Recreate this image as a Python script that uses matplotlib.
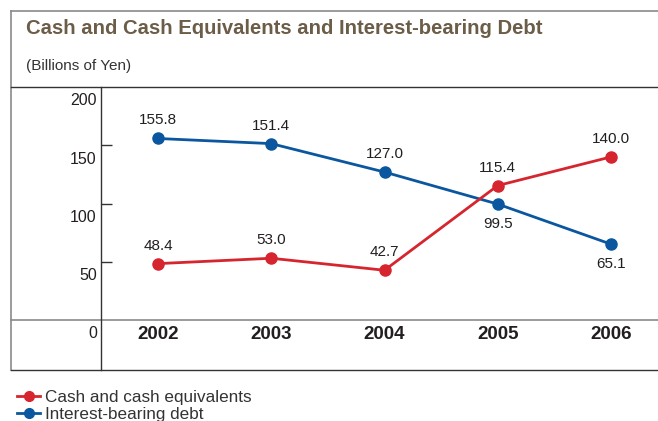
import matplotlib
matplotlib.use("Agg")
import matplotlib.pyplot as plt
from matplotlib.lines import Line2D

# Data (billions of yen)
years = ["2002", "2003", "2004", "2005", "2006"]
cash = [48.4, 53.0, 42.7, 115.4, 140.0]
debt = [155.8, 151.4, 127.0, 99.5, 65.1]
y_ticks = [0, 50, 100, 150, 200]

# label placement: +1 above the point, -1 below
cash_label_side = [1, 1, 1, 1, 1]
debt_label_side = [1, 1, 1, -1, -1]

RED = "#d6252e"
BLUE = "#0b579f"
TEXT = "#231f20"
TITLE = "#6b5d47"

W, H = 658, 421
DPI = 100
fig = plt.figure(figsize=(W / DPI, H / DPI), dpi=DPI)
fig.patch.set_facecolor("white")

REG = ["Liberation Sans", "DejaVu Sans"]


def fx(px):
    return px / W


def fy(py):
    return 1 - py / H


# frame lines of the panel
def hline(y, x0, x1, color, lw):
    fig.add_artist(Line2D([fx(x0), fx(x1)], [fy(y), fy(y)], color=color, lw=lw,
                          transform=fig.transFigure))


def vline(x, y0, y1, color, lw):
    fig.add_artist(Line2D([fx(x), fx(x)], [fy(y0), fy(y1)], color=color, lw=lw,
                          transform=fig.transFigure))


hline(11, 11, W, "#8a8a8a", 1.2)
vline(11, 11, 370, "#8a8a8a", 1.2)
hline(87, 11, W, "#333333", 1.0)
hline(320, 11, W, "#8a8a8a", 1.2)
hline(370, 11, W, "#333333", 1.0)
vline(101, 87, 370, "#333333", 1.0)

# title and unit
fig.text(fx(26), fy(29), "Cash and Cash Equivalents and Interest-bearing Debt",
         family=REG, fontweight="bold", fontsize=14.6, color=TITLE,
         ha="left", va="center")
fig.text(fx(26), fy(66), "(Billions of Yen)", family=REG, fontsize=11,
         color="#333333", ha="left", va="center")

# plotting area: value 0 at y=320, 200 at y=87
ax = fig.add_axes([fx(101), fy(320), fx(W) - fx(101), fy(87) - fy(320)])
ax.set_facecolor("none")
x = list(range(len(years)))
step = 113.25
ax.set_xlim(-(158 - 101) / step, (len(years) - 1) + (W - 611) / step)
ax.set_ylim(0, 200)
for s in ax.spines.values():
    s.set_visible(False)
ax.set_xticks([])
ax.set_yticks([50, 100, 150])
ax.tick_params(axis="y", direction="in", length=8, width=1.0, color="#333333",
               labelleft=False)

ax.plot(x, debt, color=BLUE, lw=2.0, marker="o", ms=8, zorder=3,
        label="Interest-bearing debt")
ax.plot(x, cash, color=RED, lw=2.0, marker="o", ms=8, zorder=4,
        label="Cash and cash equivalents")

# value labels
for xs, vals, sides in ((x, cash, cash_label_side), (x, debt, debt_label_side)):
    for xi, v, s in zip(xs, vals, sides):
        ax.annotate(f"{v:.1f}", (xi, v), xytext=(0, 13 if s > 0 else -14),
                    textcoords="offset points", ha="center",
                    va="center", family=REG, fontsize=11, color=TEXT)

# y-axis labels sit just below their level, left of the divider
for t in y_ticks:
    ax.annotate(str(t), (0, t), xycoords=("axes fraction", "data"),
                xytext=(-3, -10), textcoords="offset points",
                ha="right", va="center", family=REG, fontsize=11.5, color=TEXT)

# year labels in the row beneath the zero line
for xi, yr in zip(x, years):
    ax.annotate(yr, (xi, 0), xytext=(0, -10.5), textcoords="offset points",
                ha="center", va="center", family=REG, fontweight="bold",
                fontsize=13.5, color=TEXT, annotation_clip=False)

# legend
handles = [Line2D([], [], color=RED, lw=2.0, marker="o", ms=7),
           Line2D([], [], color=BLUE, lw=2.0, marker="o", ms=7)]
fig.legend(handles, ["Cash and cash equivalents", "Interest-bearing debt"],
           loc="upper left", bbox_to_anchor=(fx(17), fy(390)),
           frameon=False, handlelength=1.35, handletextpad=0.3,
           labelspacing=0.1, borderpad=0, borderaxespad=0,
           prop={"family": REG, "size": 12.3}, labelcolor="#333333")

fig.savefig("out.png", dpi=DPI, facecolor="white")
